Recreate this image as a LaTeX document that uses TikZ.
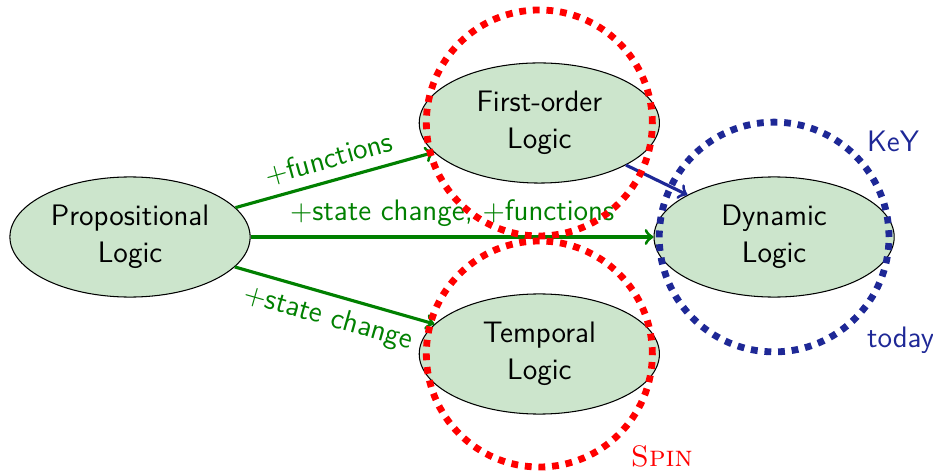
\documentclass[tikz,border=0pt]{standalone}
\usetikzlibrary{positioning,shapes.geometric}

\colorlet{gaingreen}{green!50!black}
\definecolor{keyblue}{RGB}{30,40,150}

\begin{document}
\begin{tikzpicture}[
	font=\sffamily\fontsize{11.3pt}{14pt}\selectfont,
	node distance=1cm and 1cm,
	logic/.style={draw, ellipse, fill=green!50!black!20, minimum width=3.22cm, minimum height=1.61cm, inner sep=1pt, align=center},
	gain/.style={->, very thick, gaingreen},
	spinring/.style={draw=red, circle, line width=2.6pt, dash pattern=on 2.6pt off 2.6pt, minimum size=3.03cm},
	keyring/.style={draw=keyblue, circle, line width=2.6pt, dash pattern=on 2.6pt off 2.6pt, minimum size=3.08cm}
	]
	\useasboundingbox (-1.743,-3.137) rectangle (10.764,3.177);

	\node[logic] (prop) {Propositional\\Logic};
	\node[logic, above right=0.38cm and 3.2cm of prop] (fol) {First-order\\Logic};
	\node[logic, below right=0.42cm and 3.2cm of prop] (tl) {Temporal\\Logic};
	\node[logic, right=5.4cm of prop] (dl) {Dynamic\\Logic};

	\path (prop) edge[gain] node[above, sloped] {$+$functions} (fol)
	(prop) edge[gain] node[above] {$+$state change, $+$functions} (dl)
	(prop) edge[gain] node[below, sloped] {$+$state change} (tl)
	(fol) edge[->, very thick, keyblue] (dl);

	\node[spinring] (spinfol) at (fol) {};
	\node[spinring] (spintl) at (tl) {};
	\node[keyring] (key) at (dl) {};

	\node[anchor=south west, keyblue, yshift=-3pt] at (key.north east) {KeY};
	\node[anchor=north west, keyblue, yshift=1pt] at (key.south east) {today};
	\node[anchor=north west, red] at (spintl.south east) {\normalfont\fontsize{11.3pt}{14pt}\selectfont\textsc{Spin}};
\end{tikzpicture}
\end{document}
